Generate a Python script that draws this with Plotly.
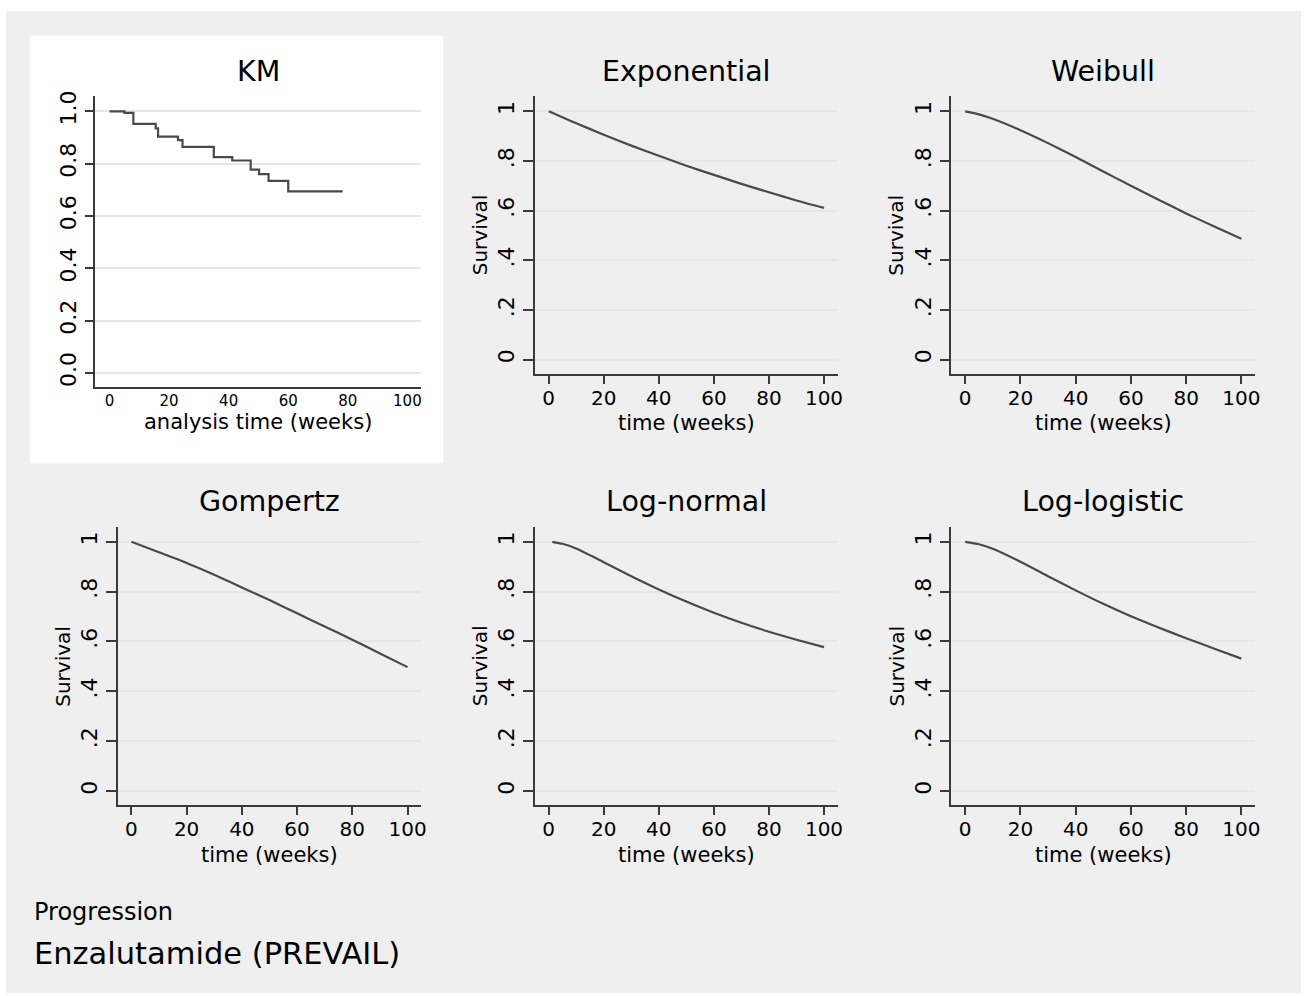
import plotly.graph_objects as go

# ---- data -------------------------------------------------------------
weeks = [0, 5, 10, 20, 30, 40, 50, 60, 70, 80, 90, 100]
exp_surv = [1.0, 0.976, 0.952, 0.906, 0.862, 0.821, 0.781, 0.744, 0.708, 0.674, 0.641, 0.611]
weib_surv = [1.0, 0.988, 0.970, 0.924, 0.872, 0.816, 0.758, 0.700, 0.644, 0.589, 0.537, 0.487]
gomp_surv = [1.0, 0.979, 0.958, 0.915, 0.868, 0.817, 0.766, 0.713, 0.660, 0.607, 0.552, 0.497]
llog_surv = [1.0, 0.990, 0.972, 0.920, 0.862, 0.805, 0.751, 0.701, 0.656, 0.613, 0.572, 0.531]

lnorm_weeks = [1.3, 5, 10, 20, 30, 40, 50, 60, 70, 80, 90, 100]
lnorm_surv = [1.0, 0.992, 0.973, 0.918, 0.862, 0.809, 0.760, 0.715, 0.675, 0.639, 0.607, 0.577]

km_weeks = [0, 5.0, 8.0, 15.5, 16.3, 23.0, 24.5, 35.0, 41.2, 47.4, 50.2, 53.4, 60.0, 78.3]
km_surv = [1.0, 0.994, 0.952, 0.935, 0.903, 0.890, 0.864, 0.825, 0.812, 0.777, 0.760, 0.734, 0.694, 0.694]

x_ticks = [0, 20, 40, 60, 80, 100]
y_ticks = [0, 0.2, 0.4, 0.6, 0.8, 1.0]
y_ticktext = ["0", ".2", ".4", ".6", ".8", "1"]
km_y_ticktext = ["0.0", "0.2", "0.4", "0.6", "0.8", "1.0"]

titles = ["KM", "Exponential", "Weibull", "Gompertz", "Log-normal", "Log-logistic"]
subtitle = "Progression"
main_title = "Enzalutamide (PREVAIL)"

# ---- styling ----------------------------------------------------------
W, H = 1307, 996
FONT = "DejaVu Sans"
CURVE = "#4a4a4a"
GRID = "#e6e6e6"
AXIS = "#3a3a3a"
PANEL_BG = "#efefef"


def fx(px):
    return px / W


def fy(px):
    return 1 - px / H


# plot-area boxes in pixels: (left, top, right, bottom)
boxes = [
    (95, 91, 423, 383),
    (537, 91, 841, 370),
    (955, 91, 1260, 370),
    (118, 524, 423, 804),
    (537, 524, 841, 804),
    (955, 524, 1260, 804),
]

series = [
    (km_weeks, km_surv, "hv"),
    (weeks, exp_surv, "spline"),
    (weeks, weib_surv, "spline"),
    (weeks, gomp_surv, "spline"),
    (lnorm_weeks, lnorm_surv, "spline"),
    (weeks, llog_surv, "spline"),
]

fig = go.Figure()
layout = {}
annotations = []

for i, ((xs, ys, shape), box, title) in enumerate(zip(series, boxes, titles)):
    n = i + 1
    xa = "x" if n == 1 else f"x{n}"
    ya = "y" if n == 1 else f"y{n}"
    line = dict(color=CURVE, width=2.2, shape=shape)
    if shape == "spline":
        line["smoothing"] = 0.6
    fig.add_trace(go.Scatter(x=xs, y=ys, xaxis=xa, yaxis=ya, mode="lines",
                             line=line, hoverinfo="skip", showlegend=False))

    l, t, r, b = box
    is_km = n == 1
    layout["xaxis" if n == 1 else f"xaxis{n}"] = dict(
        domain=[fx(l), fx(r)],
        anchor=ya,
        range=[-5, 104.7] if is_km else [-5, 105],
        tickvals=x_ticks,
        ticks="" if is_km else "outside",
        ticklen=8,
        tickwidth=1.5,
        tickcolor=AXIS,
        ticklabelstandoff=0 if is_km else -3,
        showline=True,
        linecolor=AXIS,
        linewidth=1.5,
        showgrid=False,
        zeroline=False,
        tickfont=dict(family=FONT, size=15 if is_km else 20, color="black"),
        fixedrange=True,
    )
    layout["yaxis" if n == 1 else f"yaxis{n}"] = dict(
        domain=[fy(b), fy(t)],
        anchor=xa,
        range=[-0.053, 1.057] if is_km else [-0.057, 1.06],
        tickvals=y_ticks,
        ticktext=km_y_ticktext if is_km else y_ticktext,
        tickangle=-90,
        ticks="outside",
        ticklen=8 if is_km else 10,
        tickwidth=1.5,
        tickcolor=AXIS,
        showline=True,
        linecolor=AXIS,
        linewidth=1.5,
        showgrid=True,
        gridcolor=GRID,
        gridwidth=2,
        zeroline=False,
        tickfont=dict(family=FONT, size=22, color="black"),
        fixedrange=True,
    )

    cx = (l + r) / 2
    # panel title
    annotations.append(dict(
        text=title, x=fx(cx), y=fy(t - 25), xref="paper", yref="paper",
        xanchor="center", yanchor="middle", showarrow=False,
        font=dict(family=FONT, size=28.5, color="black")))
    # x-axis title
    annotations.append(dict(
        text="analysis time (weeks)" if is_km else "time (weeks)",
        x=fx(cx), y=fy(b + 36 if is_km else b + 50), xref="paper", yref="paper",
        xanchor="center", yanchor="middle", showarrow=False,
        font=dict(family=FONT, size=21, color="black")))
    # y-axis title
    if not is_km:
        annotations.append(dict(
            text="Survival", x=fx(l - 55), y=fy((t + b) / 2),
            xref="paper", yref="paper", xanchor="center", yanchor="middle",
            textangle=-90, showarrow=False,
            font=dict(family=FONT, size=20, color="black")))

annotations.append(dict(
    text=subtitle, x=fx(32), y=fy(911), xref="paper", yref="paper",
    xanchor="left", yanchor="middle", showarrow=False,
    font=dict(family=FONT, size=24, color="black")))
annotations.append(dict(
    text=main_title, x=fx(32), y=fy(953), xref="paper", yref="paper",
    xanchor="left", yanchor="middle", showarrow=False,
    font=dict(family=FONT, size=30.5, color="black")))

shapes = [
    # grey graph region inside a thin white border
    dict(type="rect", xref="paper", yref="paper", x0=fx(6), x1=fx(1306),
         y0=fy(993), y1=fy(5), fillcolor=PANEL_BG, line=dict(width=0), layer="below"),
    # white background of the KM panel
    dict(type="rect", xref="paper", yref="paper", x0=fx(30), x1=fx(445),
         y0=fy(460), y1=fy(30), fillcolor="white", line=dict(width=0), layer="below"),
]

fig.update_layout(
    width=W, height=H,
    margin=dict(l=0, r=0, t=0, b=0),
    paper_bgcolor="white",
    plot_bgcolor="white",
    font=dict(family=FONT, color="black"),
    annotations=annotations,
    shapes=shapes,
    showlegend=False,
    **layout,
)

fig.write_html("out.html", config={"displayModeBar": False})
